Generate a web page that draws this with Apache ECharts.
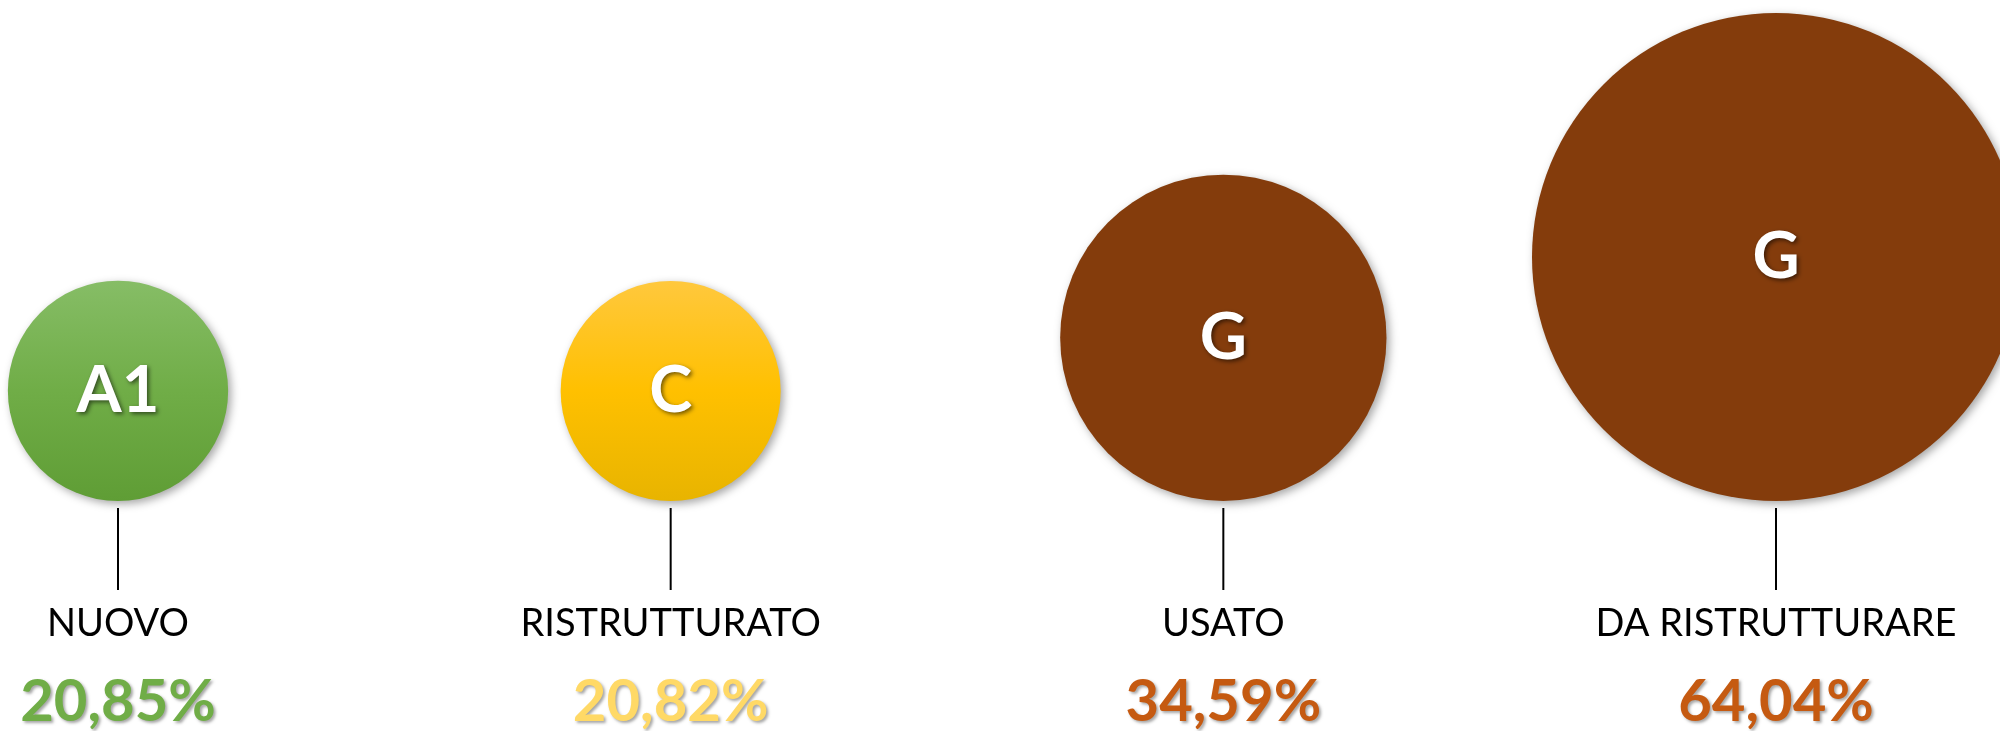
<!DOCTYPE html>
<html>
<head>
<meta charset="utf-8">
<script src="https://cdn.jsdelivr.net/npm/echarts@6/dist/echarts.min.js"></script>
<style>
html,body{margin:0;padding:0;background:#fff;}
#chart{width:2000px;height:731px;}
</style>
</head>
<body>
<div id="chart"></div>
<script>
// ---- data ----
const categories = ["NUOVO", "RISTRUTTURATO", "USATO", "DA RISTRUTTURARE"];
const energyClass = ["A1", "C", "G", "G"];
const shares = [20.85, 20.82, 34.59, 64.04];

// ---- styles ----
const FONT = "Lato, 'Open Sans', sans-serif";
const bubbleFills = [
  {type:'linear',x:0,y:0,x2:0,y2:1,colorStops:[{offset:0,color:'#86bd66'},{offset:0.5,color:'#70ad47'},{offset:1,color:'#5f9d35'}]},
  {type:'linear',x:0,y:0,x2:0,y2:1,colorStops:[{offset:0,color:'#ffc83d'},{offset:0.5,color:'#ffc000'},{offset:1,color:'#e8b400'}]},
  '#843c0c',
  '#843c0c'
];
const pctColors = ['#70ad47', '#ffd966', '#c55a11', '#c55a11'];

// bubble diameter scale: value^0.4 mapped linearly onto [220, 488] px
const SIZE_RANGE = [220, 488];
const EXP = 0.4;
const minShare = Math.min.apply(null, shares);
const maxShare = Math.max.apply(null, shares);
function bubbleSize(v){
  const t = (Math.pow(v, EXP) - Math.pow(minShare, EXP)) /
            (Math.pow(maxShare, EXP) - Math.pow(minShare, EXP));
  return SIZE_RANGE[0] + t * (SIZE_RANGE[1] - SIZE_RANGE[0]);
}
function fmtPct(v){ return v.toFixed(2).replace('.', ',') + '%'; }

const chart = echarts.init(document.getElementById('chart'), null, {renderer:'canvas'});
chart.setOption({
  animation: false,
  backgroundColor: '#ffffff',
  grid: {left: 118, right: 224, top: 0, bottom: 230},
  xAxis: {type: 'category', data: categories, boundaryGap: false, show: false},
  yAxis: {type: 'value', min: 0, max: 1, show: false},
  series: [
    {
      type: 'scatter',
      data: shares.map((v, i) => ({
        value: [i, 0, v],
        itemStyle: {color: bubbleFills[i]},
        label: {formatter: energyClass[i]}
      })),
      symbol: 'circle',
      symbolSize: (val) => bubbleSize(val[2]),
      symbolOffset: [0, '-50%'],
      itemStyle: {
        shadowBlur: 8, shadowColor: 'rgba(0,0,0,0.35)',
        shadowOffsetX: 3, shadowOffsetY: 3, opacity: 1
      },
      label: {
        show: true, position: 'inside',
        color: '#ffffff', fontFamily: FONT, fontWeight: 'bold', fontSize: 65,
        textShadowColor: 'rgba(0,0,0,0.55)', textShadowBlur: 4,
        textShadowOffsetX: 2, textShadowOffsetY: 2
      },
      emphasis: {disabled: true},
      z: 2
    },
    {
      type: 'custom',
      data: shares.map((v, i) => [i, 0, v]),
      renderItem: function (params, api) {
        const i = params.dataIndex;
        const p = api.coord([api.value(0), 0]);
        const x = p[0], y0 = p[1];
        return {
          type: 'group',
          children: [
            {type: 'line', shape: {x1: x, y1: y0 + 7, x2: x, y2: y0 + 89},
             style: {stroke: '#000', lineWidth: 2}},
            {type: 'text', x: x, y: y0 + 123,
             style: {text: categories[i], fill: '#000', font: '38px ' + FONT,
                     textAlign: 'center', textVerticalAlign: 'middle'}},
            {type: 'text', x: x, y: y0 + 201,
             style: {text: fmtPct(api.value(2)), fill: pctColors[i],
                     font: 'bold 58px ' + FONT,
                     textAlign: 'center', textVerticalAlign: 'middle',
                     textShadowColor: 'rgba(0,0,0,0.35)', textShadowBlur: 3,
                     textShadowOffsetX: 2, textShadowOffsetY: 2}}
          ]
        };
      },
      z: 3
    }
  ]
});
</script>
</body>
</html>
